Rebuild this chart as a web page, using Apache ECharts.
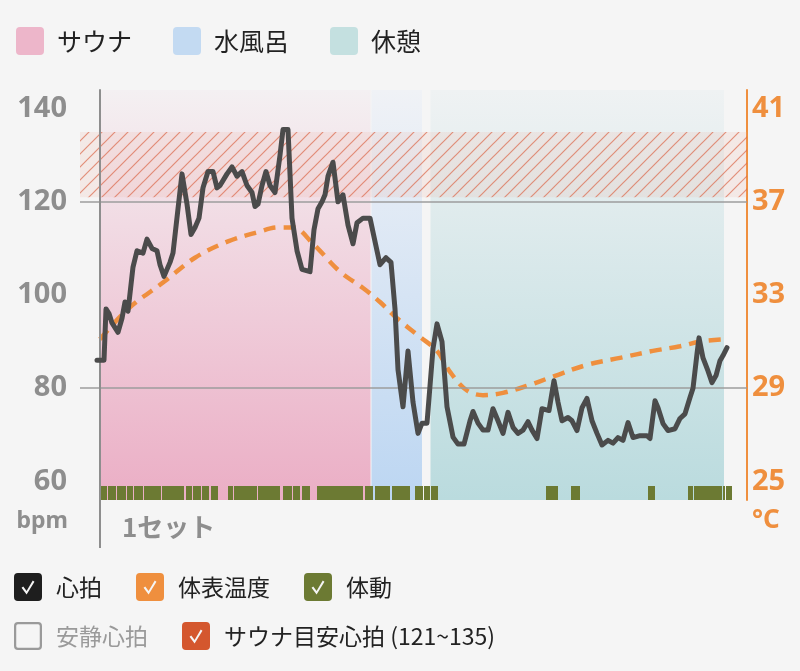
<!DOCTYPE html>
<html><head><meta charset="utf-8">
<script src="https://cdn.jsdelivr.net/npm/echarts@6/dist/echarts.min.js"></script>
<style>html,body{margin:0;padding:0;background:#f5f5f5}#c{width:800px;height:671px}</style>
</head><body><div id="c"></div>
<script>
// ---- data (time unit: sample step from set start) ----
const hrTime = [-3,4,6,9,12,18,22,25,28,33,37,43,47,52,57,60,64,70,73,78,82,87,91,95,99,103,108,113,117,120,127,132,137,142,147,152,155,158,162,166,170,175,180,183,188,192,197,202,210,214,218,222,225,228,233,238,243,248,253,257,263,270,275,280,286,291,295,298,303,308,313,318,322,327,333,337,342,347,353,358,364,370,373,378,383,388,393,398,403,408,413,418,423,428,432,437,442,449,454,458,462,468,472,477,482,487,492,497,502,508,513,518,523,528,533,540,547,550,555,558,563,568,575,580,585,590,593,597,599,603,608,612,616,620,623,627];
const hrBpm  = [86,86,97,96,94,92,95,98.5,96.5,106,109.5,109,112,110,109.5,106.5,104,107,109,118.5,126,119.5,113,114.5,116.5,123,126.5,126.5,123,123.5,126,127.5,125.5,126.5,123.5,122,119,119.5,123.5,126.5,123.5,122,130,135.5,135.5,116.5,109.5,105.5,105,114,118.5,120,121.5,125.5,128.5,120,121.5,115,111,115.5,116.5,116.5,111.5,106.5,108,107,97,84,76,88,77,70.3,72.5,72.5,88.5,93.8,90,76,69.5,68,68,73,75,72.5,71,71,75.6,73,70.3,74.8,71.6,70.3,71,72.8,71,69.2,75.6,75.2,81.6,77,73,73.7,73,70.9,75.8,77.8,73,70.3,67.8,68.8,68.2,69.4,68.8,72.6,69.4,69.8,69.8,69.2,77.3,75.8,72.4,70.9,71.3,73.5,74.5,78,80,87.4,90.8,86.5,83.7,81.2,82.7,85.9,87,88.7];
const tempTime = [0,28,65,95,128,158,178,193,213,240,263,280,297,320,337,350,367,383,403,427,453,487,520,553,580,600,625];
const tempC    = [31.1,32.4,33.6,34.6,35.3,35.7,35.9,35.9,35.2,34.0,33.3,32.7,32.0,31.2,30.6,29.7,28.9,28.7,28.8,29.1,29.5,30.0,30.3,30.6,30.8,31.0,31.1];
const moveStart = [-1,8,17,27,34,44,62,86,93,102,111,128,134,158,183,193,202,217,265,275,292,315,324,331,446,471,548,588,594,623,626];
const moveEnd   = [7,16,26,33,43,61,84,92,101,109,118,133,157,180,192,200,210,263,273,290,310,323,330,338,458,480,555,593,622,625,632];
const phaseNames = ['サウナ','水風呂','休憩'];
const phaseStart = [0,271.5,330.5];
const phaseEnd   = [270.5,322,624];
const targetLow = 121, targetHigh = 135;
const bpmTicks = [60,80,100,120,140];
const tempTicks = [25,29,33,37,41];
const gridBpm = [80,120];
const setStart = 0;
const setLabel = '1セット';
const restName = '安静心拍';
const targetName = 'サウナ目安心拍 (121~135)';

// ---- styles ----
const JP = "'Noto Sans CJK JP', 'Noto Sans', sans-serif";
const NUM = "'Noto Sans', sans-serif";
const GRAY = '#8e8e8e', ORANGE = '#EF8F3E';
const phaseLegend = ['#EDB6CA','#C3DAF2','#C4E0E0'];
const phaseGrad = [['#F4F0F2','#EBAEC5'],['#F0F2F6','#BCD6F2'],['#EFF2F3','#BADBDE']];
const BOX = 'M14 0H86Q100 0 100 14V86Q100 100 86 100H14Q0 100 0 86V14Q0 0 14 0Z';
const CHECK = 'path://' + BOX + 'M27 53L45 77L73 31L67 27L45 64L33 48Z';
const RING = 'path://' + BOX + 'M14 8Q8 8 8 14V86Q8 92 14 92H86Q92 92 92 86V14Q92 8 86 8Z';
const ROUND = 'path://' + BOX;

function hatchCanvas(){
  const s = 13, c = document.createElement('canvas');
  c.width = s; c.height = s;
  const g = c.getContext('2d');
  g.fillStyle = 'rgba(236,170,150,0.16)'; g.fillRect(0,0,s,s);
  g.strokeStyle = 'rgba(220,105,75,0.7)'; g.lineWidth = 1.2;
  g.beginPath();
  g.moveTo(0,s); g.lineTo(s,0);
  g.moveTo(-s/2,s/2); g.lineTo(s/2,-s/2);
  g.moveTo(s/2,s*1.5); g.lineTo(s*1.5,s/2);
  g.stroke();
  return c;
}

const hr = hrTime.map((t,i)=>[t,hrBpm[i]]);
const temp = tempTime.map((t,i)=>[t,tempC[i]]);
const moves = moveStart.map((s,i)=>[s,moveEnd[i]]);

const series = [];
phaseNames.forEach((n,i)=>{
  series.push({name:n,type:'line',data:[],color:phaseLegend[i],z:1,silent:true,
    markArea:{silent:true,itemStyle:{color:{type:'linear',x:0,y:0,x2:0,y2:1,colorStops:[{offset:0,color:phaseGrad[i][0]},{offset:1,color:phaseGrad[i][1]}]}},
      data:[[{xAxis:phaseStart[i]},{xAxis:phaseEnd[i]}]]}});
});
series.push({name:targetName,type:'line',data:[],color:'#D4572E',z:1,silent:true,
  markArea:{silent:true,itemStyle:{color:{image:hatchCanvas(),repeat:'repeat'}},data:[[{yAxis:targetLow},{yAxis:targetHigh}]]}});
series.push({name:'grid',type:'line',data:[],z:2,silent:true,
  markLine:{silent:true,symbol:['none','none'],label:{show:false},lineStyle:{color:'#9c9c9c',width:1.5,type:'solid'},
    data:gridBpm.map(v=>({yAxis:v})).concat([{xAxis:setStart,lineStyle:{color:GRAY,width:2,type:'solid'}}])}});
series.push({name:restName,type:'line',data:[],color:'#999'});
series.push({name:'体動',type:'custom',color:'#6C7A33',z:3,data:moves,encode:{x:[0,1],y:-1},
  renderItem:function(params,api){
    const a = api.coord([api.value(0),56]);
    const b = api.coord([api.value(1),56]);
    const h = api.size([0,3])[1];
    return {type:'rect',shape:{x:a[0],y:a[1]-h,width:b[0]-a[0],height:h},style:{fill:api.visual('color')}};
  }});
series.push({name:'体表温度',type:'line',yAxisIndex:1,data:temp,color:ORANGE,z:4,showSymbol:false,symbol:'none',smooth:0.35,
  lineStyle:{width:4.5,type:[12,8],cap:'butt'}});
series.push({name:'心拍',type:'line',data:hr,color:'#4B4B4B',z:5,showSymbol:false,symbol:'none',
  lineStyle:{width:5,join:'round',cap:'round'}});

const legText = {fontSize:23,color:'#222',fontFamily:JP,padding:[0,0,0,9]};
const option = {
  backgroundColor:'#f5f5f5',
  animation:false,
  grid:{left:80,right:53,top:90,bottom:171},
  legend:[
    {top:27,left:16,padding:0,itemWidth:28,itemHeight:28,itemGap:41,icon:ROUND,
     textStyle:Object.assign({},legText,{fontSize:25,padding:[0,0,0,8]}),
     data:phaseNames.map((n,i)=>({name:n,icon:ROUND,itemStyle:{color:phaseLegend[i],borderWidth:0}}))},
    {top:573,left:14,padding:0,itemWidth:28,itemHeight:28,itemGap:34,textStyle:legText,
     data:[{name:'心拍',icon:CHECK,itemStyle:{color:'#1e1e1e',borderWidth:0}},
           {name:'体表温度',icon:CHECK,itemStyle:{color:ORANGE,borderWidth:0}},
           {name:'体動',icon:CHECK,itemStyle:{color:'#6C7A33',borderWidth:0}}]},
    {top:622,left:14,padding:0,itemWidth:28,itemHeight:28,itemGap:34,textStyle:legText,
     inactiveColor:'#9a9a9a',inactiveBorderWidth:0,
     selected:{[restName]:false},
     data:[{name:restName,icon:RING,itemStyle:{color:'#9a9a9a',borderWidth:0}},
           {name:targetName,icon:CHECK,itemStyle:{color:'#D4572E',borderWidth:0}}]}
  ],
  xAxis:{type:'value',min:-20,max:647,axisLine:{show:false},splitLine:{show:false},
    axisTick:{show:true,customValues:[setStart],length:48,lineStyle:{color:GRAY,width:2}},
    axisLabel:{customValues:[setStart],formatter:()=>setLabel,align:'left',padding:[0,0,0,22],margin:27,verticalAlign:'middle',
      fontSize:26,fontWeight:'bold',color:GRAY,fontFamily:JP}},
  yAxis:[
    {type:'value',min:56,max:144,position:'left',axisLine:{show:true,lineStyle:{color:GRAY,width:2}},axisTick:{show:false},splitLine:{show:false},
     axisLabel:{customValues:bpmTicks,fontSize:29,fontWeight:'bold',color:GRAY,margin:13,fontFamily:NUM},
     name:'bpm',nameLocation:'start',nameGap:21,
     nameTextStyle:{fontSize:23,fontWeight:'bold',color:GRAY,align:'right',verticalAlign:'middle',padding:[0,32,0,0],fontFamily:NUM}},
    {type:'value',min:24.2,max:41.8,position:'right',axisLine:{show:true,lineStyle:{color:ORANGE,width:2}},axisTick:{show:false},splitLine:{show:false},
     axisLabel:{customValues:tempTicks,fontSize:29,fontWeight:'bold',color:ORANGE,margin:5,fontFamily:NUM},
     name:'°C',nameLocation:'start',nameGap:21,
     nameTextStyle:{fontSize:26,fontWeight:'bold',color:ORANGE,align:'left',verticalAlign:'middle',padding:[0,0,0,5],fontFamily:NUM}}
  ],
  series:series
};
const chart = echarts.init(document.getElementById('c'),null,{renderer:'canvas'});
chart.setOption(option);
</script></body></html>
